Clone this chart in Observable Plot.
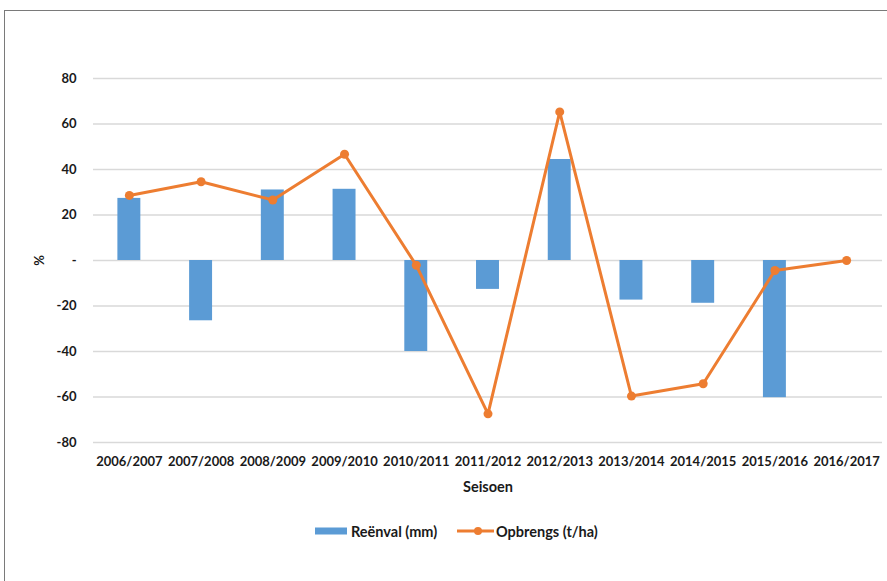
<!DOCTYPE html>
<html>
<head>
<meta charset="utf-8">
<script src="https://cdn.jsdelivr.net/npm/d3@7"></script>
<script src="https://cdn.jsdelivr.net/npm/@observablehq/plot@0.6"></script>
<style>
  html, body { margin: 0; padding: 0; background: #fff; }
  body { width: 887px; height: 581px; position: relative; overflow: hidden; font-family: Lato, "Liberation Sans", sans-serif; }
  #frame { position: absolute; left: 4px; top: 10px; width: 900px; height: 600px; border: 1.5px solid #7a7a7a; box-sizing: border-box; }
  #chart { position: absolute; left: 0; top: 0; }
  #legend { position: absolute; top: 522px; left: 0; width: 887px; font: bold 14.5px Lato, sans-serif; color: #1a1a1a; }
  .item { position: absolute; display: flex; align-items: center; height: 18px; }
  g[aria-label="x-axis label"] text { font-size: 14.5px; }
</style>
</head>
<body>
<div id="frame"></div>
<div id="chart"></div>
<div id="legend">
  <div class="item" style="left:315px"><svg width="32" height="10"><rect x="0" y="1.5" width="32" height="7" fill="#5b9bd5"/></svg><span style="margin-left:4px">Reënval (mm)</span></div>
  <div class="item" style="left:457px"><svg width="37" height="10"><line x1="0" y1="5" x2="37" y2="5" stroke="#ed7d31" stroke-width="3"/><circle cx="21" cy="5" r="4" fill="#ed7d31"/></svg><span style="margin-left:2px">Opbrengs (t/ha)</span></div>
</div>
<script>
const seasons = ["2006/2007","2007/2008","2008/2009","2009/2010","2010/2011","2011/2012","2012/2013","2013/2014","2014/2015","2015/2016","2016/2017"];
const reenval = [27.3, -26.5, 31, 31.3, -40, -12.7, 44.4, -17.4, -18.8, -60.3, null];
const opbrengs = [28.6, 34.6, 26.6, 46.7, -2.1, -67.4, 65.3, -59.6, -54.2, -4.4, 0];
const yTicks = [-80, -60, -40, -20, 0, 20, 40, 60, 80];

const bars = seasons.map((s, i) => ({season: s, value: reenval[i]})).filter(d => d.value != null);
const pts = seasons.map((s, i) => ({season: s, value: opbrengs[i]}));

const chart = Plot.plot({
  width: 887,
  height: 500,
  marginLeft: 93,
  marginRight: 5,
  marginTop: 78,
  marginBottom: 58,
  style: {fontFamily: "Lato, sans-serif", fontSize: "13px", fontWeight: "bold", color: "#1a1a1a", background: "transparent"},
  x: {domain: seasons, paddingInner: 0.68, paddingOuter: 0.34, round: false},
  y: {domain: [-80, 80]},
  marks: [
    Plot.gridY(yTicks, {stroke: "#d9d9d9", strokeOpacity: 1, strokeWidth: 1.5}),
    Plot.axisY(yTicks, {tickSize: 0, tickPadding: 17, tickFormat: d => d === 0 ? "-" : String(d), label: "%", labelAnchor: "center", labelArrow: "none", labelOffset: 59}),
    Plot.axisX({tickSize: 0, tickPadding: 14, label: "Seisoen", labelAnchor: "center", labelArrow: "none", labelOffset: 49}),
    Plot.barY(bars, {x: "season", y: "value", fill: "#5b9bd5"}),
    Plot.line(pts, {x: "season", y: "value", stroke: "#ed7d31", strokeWidth: 3}),
    Plot.dot(pts, {x: "season", y: "value", fill: "#ed7d31", r: 4.5})
  ]
});
document.getElementById("chart").appendChild(chart);
</script>
</body>
</html>
